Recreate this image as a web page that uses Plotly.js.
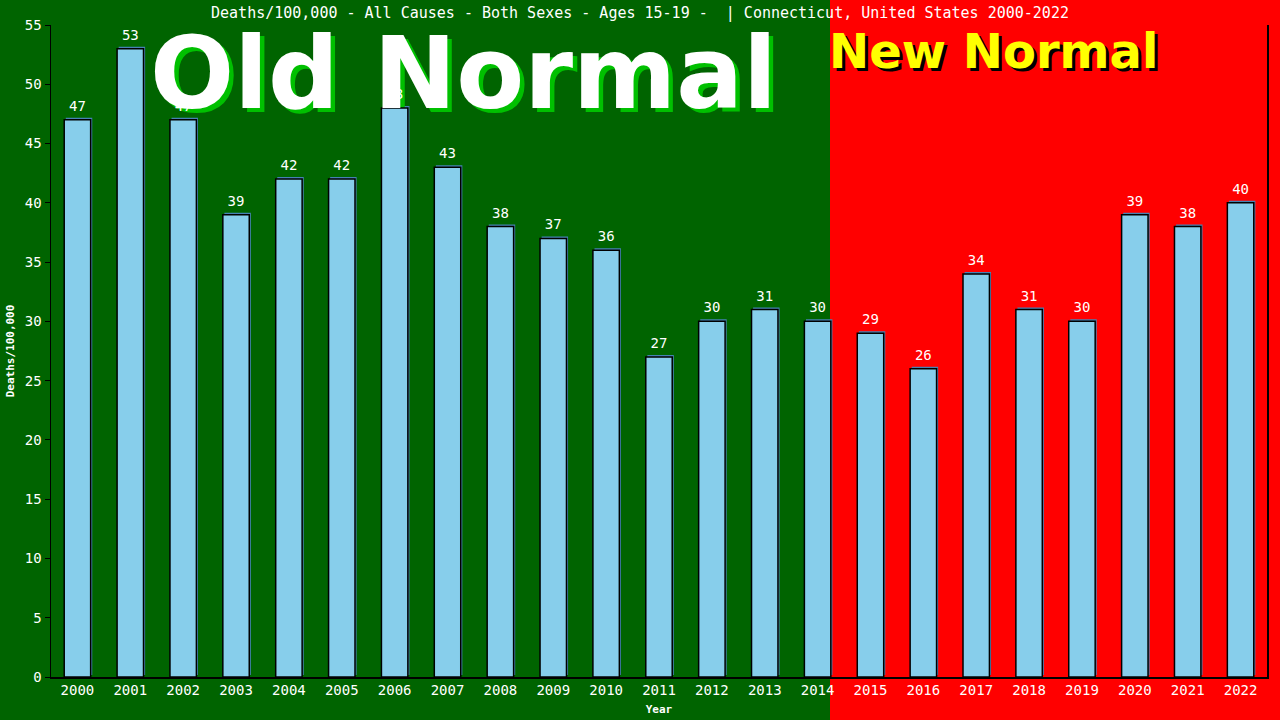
<!DOCTYPE html>
<html>
<head>
<meta charset="utf-8">
<script src="https://cdn.plot.ly/plotly-3.0.1.min.js"></script>
<style>html,body{margin:0;padding:0;background:#FF0000;}#chart{width:1280px;height:720px;}</style>
</head>
<body>
<div id="chart"></div>
<script>
const years = [2000,2001,2002,2003,2004,2005,2006,2007,2008,2009,2010,2011,2012,2013,2014,2015,2016,2017,2018,2019,2020,2021,2022];
const deathsPer100k = [47,53,47,39,42,42,48,43,38,37,36,27,30,31,30,29,26,34,31,30,39,38,40];
const yTicks = [0,5,10,15,20,25,30,35,40,45,50,55];
const chartTitle = "Deaths/100,000 - All Causes - Both Sexes - Ages 15-19 -  | Connecticut, United States 2000-2022";
const yTitle = "Deaths/100,000";
const xTitle = "Year";
const oldLabel = "Old Normal";
const newLabel = "New Normal";

const mono = "DejaVu Sans Mono, Liberation Mono, monospace";
const sans = "DejaVu Sans, Verdana, sans-serif";
const yMax = 55;
const pxPerUnit = 652 / yMax;
const shadowShift = 2 / pxPerUnit;
const labelShift = 3 / pxPerUnit;

// "Old Normal" green drop shadow, drawn beneath the bars' value labels
const oldShadowX = 1999.5 + (468 - 51) / 52.87;
const oldShadowY = (yMax - shadowShift) - (87 - 25) / pxPerUnit;
const oldShadow = {
  type: 'scatter', mode: 'text', x: [oldShadowX], y: [oldShadowY], yaxis: 'y',
  text: [oldLabel], textposition: 'middle center', cliponaxis: false,
  textfont: {family: sans, size: 99, color: '#00C000', weight: 'bold'},
  hoverinfo: 'skip', showlegend: false
};
const shadow = {
  type: 'bar', x: years, y: deathsPer100k, yaxis: 'y',
  width: 0.5, offset: -0.22,
  marker: {color: '#4682B4', line: {width: 0}},
  hoverinfo: 'skip', showlegend: false
};
const main = {
  type: 'bar', x: years, y: deathsPer100k, yaxis: 'y2',
  width: 0.5, offset: -0.25,
  marker: {color: '#87CEEB', line: {color: '#000000', width: 1.5}},
  showlegend: false
};
const labels = {
  type: 'bar', x: years, y: deathsPer100k, yaxis: 'y3',
  width: 0.5, offset: -0.25,
  marker: {color: 'rgba(0,0,0,0)', line: {width: 0}},
  text: deathsPer100k.map(String), textposition: 'outside', cliponaxis: false,
  textfont: {family: mono, size: 14, color: '#FFFFFF'},
  hoverinfo: 'skip', showlegend: false
};

const bgSplit = (830 - 51) / 1216;

const layout = {
  width: 1280, height: 720,
  margin: {l: 51, r: 13, t: 25, b: 43},
  paper_bgcolor: '#FF0000',
  plot_bgcolor: 'rgba(0,0,0,0)',
  barmode: 'overlay',
  title: {text: chartTitle, font: {family: mono, size: 15, color: '#FFFFFF'},
          x: 0.5, xanchor: 'center', y: 1 - 13/720, yanchor: 'middle', yref: 'container'},
  xaxis: {
    range: [1999.5, 2022.5], tickvals: years, ticktext: years.map(String),
    showgrid: false, zeroline: false, showline: true, linecolor: '#000000', linewidth: 1.5,
    ticks: '', tickfont: {family: mono, size: 14, color: '#FFFFFF'},
    title: {text: xTitle, font: {family: mono, size: 11, color: '#FFFFFF', weight: 'bold'}, standoff: 8}
  },
  yaxis: {
    range: [-shadowShift, yMax - shadowShift], visible: false, fixedrange: true
  },
  yaxis2: {
    overlaying: 'y', side: 'left', range: [0, yMax], tickvals: yTicks,
    showgrid: false, zeroline: false, showline: true, mirror: true, linecolor: '#000000', linewidth: 1.5,
    ticks: 'outside', ticklen: 5, tickcolor: '#000000',
    tickfont: {family: mono, size: 14, color: '#FFFFFF'},
    title: {text: yTitle, font: {family: mono, size: 11, color: '#FFFFFF', weight: 'bold'}, standoff: 8}
  },
  yaxis3: {
    overlaying: 'y', range: [-labelShift, yMax - labelShift], visible: false, fixedrange: true
  },
  shapes: [
    {type: 'rect', xref: 'paper', yref: 'paper', x0: -0.2, x1: bgSplit, y0: -0.2, y1: 1.2,
     fillcolor: '#006400', line: {width: 0}, layer: 'below'}
  ],
  annotations: [
    {text: oldLabel, xref: 'paper', yref: 'paper', x: (463-51)/1216, y: (677-73)/652, xanchor: 'center', yanchor: 'middle',
     showarrow: false, font: {family: sans, size: 99, color: '#FFFFFF', weight: 'bold'}},
    {text: newLabel, xref: 'paper', yref: 'paper', x: (993.5-51)/1216, y: (677-50.5)/652, xanchor: 'center', yanchor: 'middle',
     xshift: 3, yshift: -3, showarrow: false, font: {family: sans, size: 48, color: '#000000', weight: 'bold'}},
    {text: newLabel, xref: 'paper', yref: 'paper', x: (993.5-51)/1216, y: (677-50.5)/652, xanchor: 'center', yanchor: 'middle',
     showarrow: false, font: {family: sans, size: 48, color: '#FFFF00', weight: 'bold'}}
  ]
};

Plotly.newPlot('chart', [oldShadow, shadow, main, labels], layout, {displayModeBar: false, staticPlot: true});
</script>
</body>
</html>
